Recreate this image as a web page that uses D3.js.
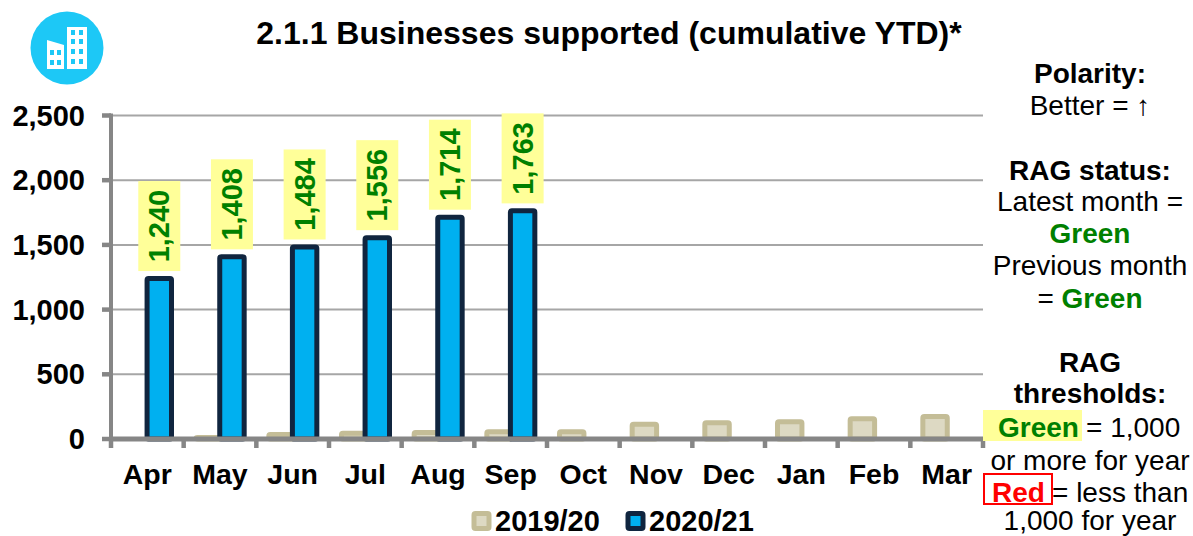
<!DOCTYPE html>
<html>
<head>
<meta charset="utf-8">
<script src="https://cdn.jsdelivr.net/npm/d3@7"></script>
<style>
  html, body { margin: 0; padding: 0; background: #fff; }
  svg { display: block; }
  text { font-family: "Liberation Sans", Arial, sans-serif; }
</style>
</head>
<body>
<svg id="chart" width="1193" height="536"></svg>
<script>
const months = ["Apr","May","Jun","Jul","Aug","Sep","Oct","Nov","Dec","Jan","Feb","Mar"];
const values1920 = [0,12,35,45,50,56,56,114,125,133,156,174];
const values2021 = [1240,1408,1484,1556,1714,1763,null,null,null,null,null,null];
const yTicks = [0,500,1000,1500,2000,2500];
const seriesNames = ["2019/20","2020/21"];

const colors = {
  prevFill: "#ddd9c3", prevStroke: "#c4bd97",
  currFill: "#00b0f0", currStroke: "#10253f",
  grid: "#a6a6a6", axis: "#868686",
  highlight: "#ffff99", green: "#008000", red: "#ff0000"
};

const svg = d3.select("#chart");
const plot = { left: 111, right: 983, top: 115.5, bottom: 439 };

const x = d3.scaleBand().domain(months).range([plot.left, plot.right]);
const y = d3.scaleLinear().domain([0, 2500]).range([plot.bottom, plot.top]);

// Bars overlap slightly inside each month: offsets are fractions of the band.
const barW = x.bandwidth() * 0.405;
const offPrev = x.bandwidth() * 0.1376;
const offCurr = x.bandwidth() * 0.462;
const strokeW = 5;

// Title
svg.append("text").attr("x", 609).attr("y", 44).attr("text-anchor", "middle")
  .attr("font-size", 32).attr("font-weight", "bold").text("2.1.1 Businesses supported (cumulative YTD)*");

// Building badge
const badge = svg.append("g").attr("transform", "translate(67,48)");
badge.append("circle").attr("r", 36.5).attr("fill", "#1dc8f6");
badge.append("path").attr("fill", "#fff")
  .attr("d", "M-20,-8 L-3,-3 L-3,21 L-20,21 Z M0,-21 L20,-21 L20,21 L0,21 Z");
const windows = [
  [-17,2],[-10,2],[-17,12],[-10,12],
  [4,-18],[12,-18],[4,-9],[12,-9],[4,1],[12,1],[4,11],[12,11]
];
badge.selectAll("rect.w").data(windows).join("rect").attr("class", "w")
  .attr("x", d => d[0]).attr("y", d => d[1]).attr("width", 4).attr("height", 5).attr("fill", "#1dc8f6");

// Horizontal gridlines
svg.append("g").selectAll("line").data(yTicks.filter(t => t > 0)).join("line")
  .attr("x1", plot.left).attr("x2", plot.right)
  .attr("y1", d => y(d)).attr("y2", d => y(d))
  .attr("stroke", colors.grid).attr("stroke-width", 2);

// Bars, clipped at the baseline so the bottom edge sits under the axis
function drawBars(values, offset, fill, stroke) {
  svg.append("g").selectAll("rect")
    .data(months.map((m, i) => ({ m, v: values[i] })).filter(d => d.v !== null && d.v > 0))
    .join("rect")
    .attr("x", d => x(d.m) + offset + strokeW / 2)
    .attr("width", barW - strokeW)
    .attr("y", d => y(d.v))
    .attr("height", d => plot.bottom - y(d.v))
    .attr("rx", 1.5)
    .attr("fill", fill).attr("stroke", stroke).attr("stroke-width", strokeW)
    .attr("stroke-linejoin", "round");
}
drawBars(values1920, offPrev, colors.prevFill, colors.prevStroke);
drawBars(values2021, offCurr, colors.currFill, colors.currStroke);

// Highlighted value labels set vertically above the current-year bars
const labelGroup = svg.append("g");
months.forEach((m, i) => {
  const v = values2021[i];
  if (v === null) return;
  const cx = x(m) + offCurr + barW / 2;
  const bottom = y(v) - 7.5;
  labelGroup.append("rect").attr("x", cx - 21).attr("width", 42)
    .attr("y", bottom - 90).attr("height", 90).attr("fill", colors.highlight);
  labelGroup.append("text")
    .attr("transform", `translate(${cx + 10},${bottom - 45}) rotate(-90)`)
    .attr("text-anchor", "middle")
    .attr("font-size", 29).attr("font-weight", "bold").attr("fill", colors.green)
    .text(d3.format(",")(v));
});

// Axes
const axisG = svg.append("g");
axisG.append("line").attr("x1", plot.left).attr("x2", plot.left)
  .attr("y1", plot.top - 2).attr("y2", plot.bottom + 9)
  .attr("stroke", colors.axis).attr("stroke-width", 4);
axisG.append("line").attr("x1", plot.left).attr("x2", plot.right + 1)
  .attr("y1", plot.bottom).attr("y2", plot.bottom)
  .attr("stroke", colors.axis).attr("stroke-width", 5);
axisG.selectAll("line.ytick").data(yTicks).join("line").attr("class", "ytick")
  .attr("x1", plot.left - 9).attr("x2", plot.left)
  .attr("y1", d => y(d)).attr("y2", d => y(d))
  .attr("stroke", colors.axis).attr("stroke-width", 4.5);
axisG.selectAll("line.xtick").data(months.concat(["end"])).join("line").attr("class", "xtick")
  .attr("x1", d => d === "end" ? plot.right : x(d)).attr("x2", d => d === "end" ? plot.right : x(d))
  .attr("y1", plot.bottom).attr("y2", plot.bottom + 9)
  .attr("stroke", colors.axis).attr("stroke-width", 4.5);

svg.append("g").selectAll("text").data(yTicks).join("text")
  .attr("x", 85).attr("y", d => y(d) + 10).attr("text-anchor", "end")
  .attr("font-size", 29).attr("font-weight", "bold").text(d => d3.format(",")(d));

svg.append("g").selectAll("text").data(months).join("text")
  .attr("x", d => x(d) + x.bandwidth() / 2).attr("y", 484).attr("text-anchor", "middle")
  .attr("font-size", 28.5).attr("font-weight", "bold").text(d => d);

// Legend
const legendItems = [
  { name: seriesNames[0], sx: 474, tx: 495, fill: colors.prevFill, stroke: colors.prevStroke },
  { name: seriesNames[1], sx: 628, tx: 649, fill: colors.currFill, stroke: colors.currStroke }
];
legendItems.forEach(d => {
  svg.append("rect").attr("x", d.sx).attr("y", 513.5).attr("width", 15).attr("height", 15).attr("rx", 1.5)
    .attr("fill", d.fill).attr("stroke", d.stroke).attr("stroke-width", 5);
  svg.append("text").attr("x", d.tx).attr("y", 530.5).attr("font-size", 29).attr("font-weight", "bold").text(d.name);
});

// Side panel with polarity and RAG notes
const sideLines = [
  { t: "Polarity:", y: 83, b: true },
  { t: "Better = ↑", y: 114.5 },
  { t: "RAG status:", y: 179.5, b: true },
  { t: "Latest month =", y: 210.5 },
  { t: "Green", y: 242.5, b: true, c: colors.green },
  { t: "Previous month", y: 275 },
  { t: "RAG", y: 372, b: true },
  { t: "thresholds:", y: 403, b: true },
  { t: "or more for year", y: 469.5 },
  { t: "1,000 for year", y: 530 }
];
svg.append("g").selectAll("text").data(sideLines).join("text")
  .attr("x", 1090).attr("y", d => d.y).attr("text-anchor", "middle")
  .attr("font-size", 28).attr("font-weight", d => d.b ? "bold" : "normal")
  .attr("fill", d => d.c || "#000").text(d => d.t);

const mixed = svg.append("text").attr("x", 1090).attr("y", 307.5).attr("text-anchor", "middle").attr("font-size", 28);
mixed.append("tspan").text("= ");
mixed.append("tspan").attr("font-weight", "bold").attr("fill", colors.green).text("Green");

svg.append("rect").attr("x", 983).attr("y", 410).attr("width", 99).attr("height", 31).attr("fill", colors.highlight);
svg.append("text").attr("x", 998).attr("y", 436.5).attr("font-size", 28).attr("font-weight", "bold")
  .attr("fill", colors.green).text("Green");
svg.append("text").attr("x", 1086).attr("y", 436.5).attr("font-size", 28).text("= 1,000");

svg.append("rect").attr("x", 984).attr("y", 474).attr("width", 68).attr("height", 30)
  .attr("fill", "none").attr("stroke", colors.red).attr("stroke-width", 2);
svg.append("text").attr("x", 992).attr("y", 501.5).attr("font-size", 28).attr("font-weight", "bold")
  .attr("fill", colors.red).text("Red");
svg.append("text").attr("x", 1052).attr("y", 501.5).attr("font-size", 28).text("= less than");
</script>
</body>
</html>
